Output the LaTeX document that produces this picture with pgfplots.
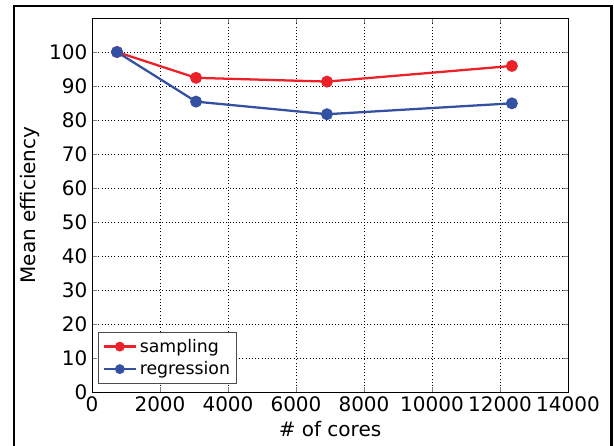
\documentclass[border=0pt]{standalone}
\usepackage{pgfplots}
\pgfplotsset{compat=1.18}
\usepackage{fontspec}
\setmainfont{DejaVu Sans}
\definecolor{cred}{RGB}{235,32,40}
\definecolor{cblue}{RGB}{52,80,162}
\begin{document}
\begin{tikzpicture}[x=1pt,y=1pt]
\useasboundingbox (0,0) rectangle (460.5,334.5);
\begin{scope}
\clip (0,0) rectangle (460.5,334.5);
\draw[line width=2.2pt] (10.5,-5) -- (10.5,330) -- (458.5,330) -- (458.5,-5);
\end{scope}
\begin{axis}[
  at={(69pt,40.5pt)}, anchor=south west,
  scale only axis, width=357pt, height=280.5pt,
  xmin=0, xmax=14000, ymin=0, ymax=110,
  xtick={0,2000,...,14000}, ytick={0,10,...,100},
  scaled ticks=false,
  grid=major, major grid style={black, dotted, line width=0.5pt},
  tick align=inside, tick pos=both,
  major tick length=4pt,
  axis line style={line width=0.7pt},
  /pgf/number format/.cd, 1000 sep={}, assume math mode=true, /pgfplots/.cd,
  tick label style={font=\fontsize{15}{18}\selectfont},
  xlabel={\# of cores}, ylabel={Mean efficiency},
  label style={font=\fontsize{15}{18}\selectfont},
  xlabel style={yshift=0pt},
  ylabel style={yshift=0pt},
  legend style={font=\fontsize{13}{15.5}\selectfont, draw=black!70, line width=0.6pt, at={(0.013,0.022)}, anchor=south west, row sep=1.5pt, inner sep=3pt},
  legend cell align=left,
  legend image code/.code={\draw[#1] (0cm,0cm) -- (0.85cm,0cm); \draw[#1, mark size=2.8pt] plot coordinates {(0.425cm,0cm)};},
]
\addplot[cred, line width=1.7pt, mark=*, mark size=3.6pt] coordinates {(735,100) (3060,92.4) (6910,91.3) (12350,95.9)};
\addlegendentry{sampling}
\addplot[cblue, line width=1.7pt, mark=*, mark size=3.6pt] coordinates {(735,100) (3060,85.4) (6910,81.7) (12350,84.9)};
\addlegendentry{regression}
\end{axis}
\end{tikzpicture}
\end{document}
